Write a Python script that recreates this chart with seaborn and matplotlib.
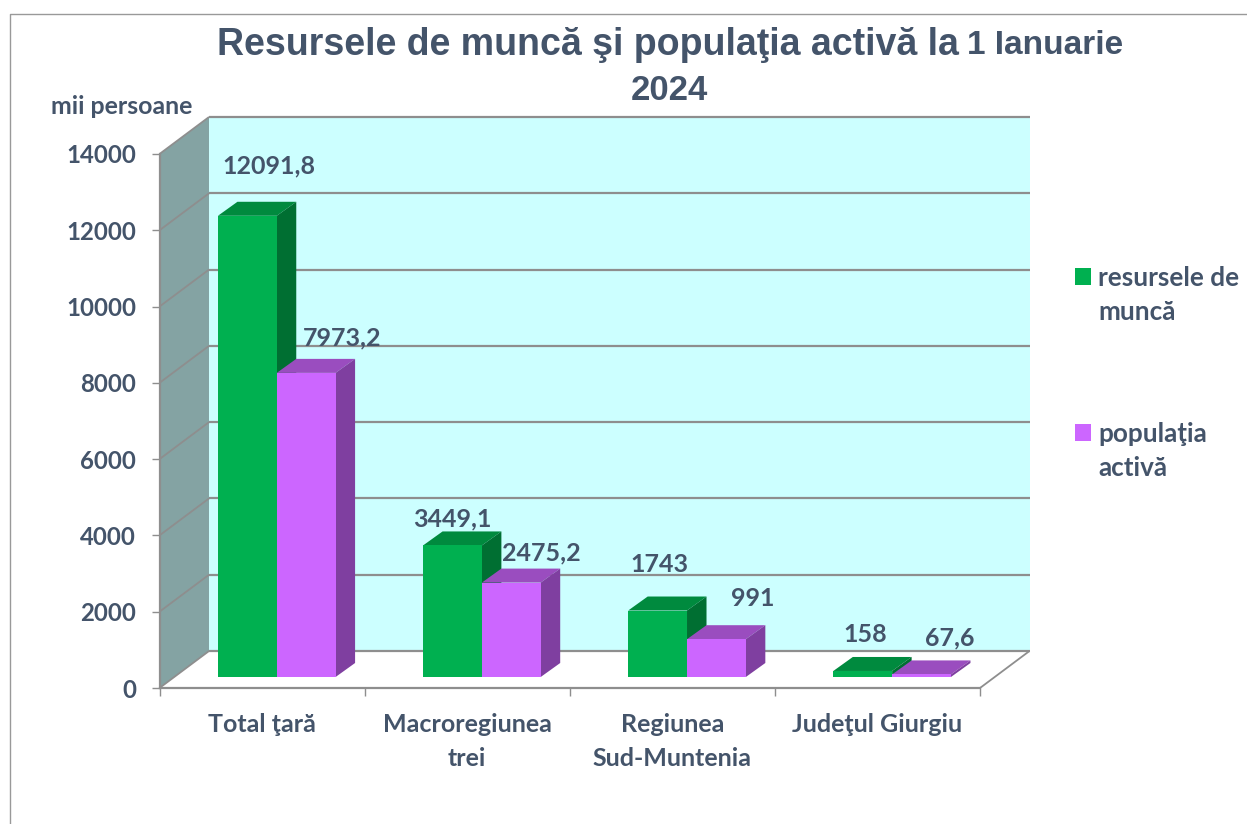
import matplotlib
matplotlib.use("Agg")
import matplotlib.pyplot as plt
from matplotlib.patches import Polygon, Patch
from matplotlib.transforms import Affine2D, IdentityTransform
from matplotlib.lines import Line2D
import pandas as pd
import seaborn as sns

categories = ["Total ţară", "Macroregiunea\ntrei", "Regiunea\nSud-Muntenia", "Judeţul Giurgiu"]
resurse = [12091.8, 3449.1, 1743, 158]
activa = [7973.2, 2475.2, 991, 67.6]
series_names = ["resursele de\nmuncă", "populaţia\nactivă"]
y_ticks = [0, 2000, 4000, 6000, 8000, 10000, 12000, 14000]

TXT = "#44546A"
GREY = "#8E8E8E"
W, H = 1247, 824
sns.set_theme(style="white")
plt.rcParams["font.family"] = ["Lato", "DejaVu Sans"]

df = pd.DataFrame({
    "cat": categories * 2,
    "val": resurse + activa,
    "serie": [series_names[0]] * 4 + [series_names[1]] * 4,
})

fig = plt.figure(figsize=(W / 100, H / 100), dpi=100, facecolor="white")
L, R, T, B = 159.5, 980, 154, 688
ax = fig.add_axes([L / W, (H - B) / H, (R - L) / W, (B - T) / H])
ax.set_facecolor("none")

FRONT = {series_names[0]: "#00B050", series_names[1]: "#CC66FF"}
TOP = ["#008A3E", "#9A4DBF"]
SIDE = ["#006F32", "#7F3FA0"]

sns.barplot(data=df, x="cat", y="val", hue="serie", palette=FRONT, order=categories,
            hue_order=series_names, width=0.5735, gap=0, dodge=True, saturation=1,
            legend=False, ax=ax, linewidth=0)
ax.set_xlim(-0.5, 3.5)
ax.set_ylim(0, 14000)
ax.set_xlabel("")
ax.set_ylabel("")

def px(x, y, dx=0.0, dy=0.0):
    a = ax.transData.transform((x, y))
    return (a[0] + dx, a[1] + dy)

WALL = (49.5, 37.0)      # depth of the whole chart box (pixels)
SHIFT = (14.7, 11.0)     # front of the bars inside the box
DEPTH = (19.5, 14.0)     # depth of one bar
ID = IdentityTransform()

def poly(points, color, z):
    ax.add_patch(Polygon(points, closed=True, facecolor=color, edgecolor="none", linewidth=0,
                         transform=ID, zorder=z, clip_on=False))

def seg(p, q, z=1.5, lw=1.6):
    ax.add_line(Line2D([p[0], q[0]], [p[1], q[1]], color=GREY, lw=lw, transform=ID,
                       zorder=z, clip_on=False, solid_capstyle="butt"))

x0, x1, y0, y1 = -0.5, 3.5, y_ticks[0], y_ticks[-1]
poly([px(x0, y0, *WALL), px(x1, y0, *WALL), px(x1, y1, *WALL), px(x0, y1, *WALL)], "#CCFFFF", 0.5)
poly([px(x0, y0), px(x0, y0, *WALL), px(x0, y1, *WALL), px(x0, y1)], "#84A3A3", 0.6)
poly([px(x0, y0), px(x1, y0), px(x1, y0, *WALL), px(x0, y0, *WALL)], "white", 0.6)
for t in y_ticks:
    seg(px(x0, t), px(x0, t, *WALL), lw=1.3)
    seg(px(x0, t, *WALL), px(x1, t, *WALL))
seg(px(x1, y0), px(x1, y0, *WALL), lw=1.3)

# Bars: front faces from seaborn, moved into the box, with top and side faces.
bars = [p for p in ax.patches if hasattr(p, "get_width") and p.get_height() > 0]
bars = sorted(bars, key=lambda p: p.get_x())
z = 3.0
for i, b in enumerate(bars):
    xa, xb, h = b.get_x(), b.get_x() + b.get_width(), b.get_height()
    s = i % 2
    sx, sy = SHIFT
    dx, dy = sx + DEPTH[0], sy + DEPTH[1]
    poly([px(xa, h, sx, sy), px(xb, h, sx, sy), px(xb, h, dx, dy), px(xa, h, dx, dy)], TOP[s], z)
    poly([px(xb, 0, sx, sy), px(xb, 0, dx, dy), px(xb, h, dx, dy), px(xb, h, sx, sy)], SIDE[s], z)
    b.set_transform(ax.transData + Affine2D().translate(sx, sy))
    b.set_clip_on(False)
    b.set_zorder(z + 0.1)
    z += 1

# Data labels: offsets from each bar's top-centre, in pixels.
label_offsets = [(21.5, 50), (36, 35), (0, 27), (30, 30), (2, 46), (36, 41), (2.5, 36), (28, 36)]
for b, off in zip(bars, label_offsets):
    cx = b.get_x() + b.get_width() / 2
    h = b.get_height()
    p = px(cx, h, SHIFT[0] + off[0], SHIFT[1] + off[1])
    ax.text(p[0], p[1], f"{h:g}".replace(".", ","), transform=ID, ha="center", va="center",
            fontsize=18, fontweight="bold", color=TXT, zorder=30, clip_on=False)

# Axes
for sp in ("top", "right"):
    ax.spines[sp].set_visible(False)
for sp in ("left", "bottom"):
    ax.spines[sp].set_color(GREY)
    ax.spines[sp].set_linewidth(1.6)
    ax.spines[sp].set_zorder(2)
ax.set_yticks(y_ticks)
ax.set_yticklabels([str(t) for t in y_ticks], fontsize=17.3, fontweight="bold", color=TXT)
ax.tick_params(axis="y", left=True, length=6, width=1, color=GREY, pad=11)
ax.set_xticks(range(len(categories)))
ax.set_xticklabels(categories, fontsize=18, fontweight="bold", color=TXT, linespacing=1.6)
ax.tick_params(axis="x", which="major", bottom=False, length=0, pad=18)
ax.set_xticks([-0.5, 0.5, 1.5, 2.5, 3.5], minor=True)
ax.tick_params(axis="x", which="minor", bottom=True, length=6, width=1, color=GREY)

# Legend
handles = [Patch(facecolor=FRONT[n], edgecolor="none", label=n) for n in series_names]
leg = ax.legend(handles=handles, loc="upper left", bbox_to_anchor=(1075 / W, (H - 266) / H),
                bbox_transform=fig.transFigure, frameon=False, labelcolor=TXT,
                prop={"weight": "bold", "size": 18.8, "family": ["Lato", "DejaVu Sans"]},
                handlelength=0.62, handleheight=0.62, handletextpad=0.26, labelspacing=3.75,
                borderpad=0, borderaxespad=0)
for t in leg.get_texts():
    t.set_linespacing(1.5)
for h in leg.legend_handles:          # the marker sits beside the first line of its label
    h.set_y(h.get_y() + 14)

# Titles and unit label, placed in figure pixels
def ftext(x, y, s, **kw):
    fig.text(x / W, (H - y) / H, s, **kw)

head = dict(color=TXT, fontweight="bold", family=["Liberation Sans", "DejaVu Sans"], va="center")
ftext(217, 45, "Resursele de muncă şi populaţia activă la", fontsize=27, ha="left", **head)
ftext(967, 45, "1 Ianuarie", fontsize=24, ha="left", **head)
ftext(669, 91, "2024", fontsize=25, ha="center", **head)
ftext(122, 107, "mii persoane", fontsize=17.9, ha="center", va="center", color=TXT, fontweight="bold")

# Frame of the original screenshot
fig.add_artist(Line2D([9.5 / W, 9.5 / W, 1], [0, (H - 13.5) / H, (H - 13.5) / H],
                      color="#999999", lw=1.0, transform=fig.transFigure))

fig.savefig("out.png", dpi=100, facecolor="white")
